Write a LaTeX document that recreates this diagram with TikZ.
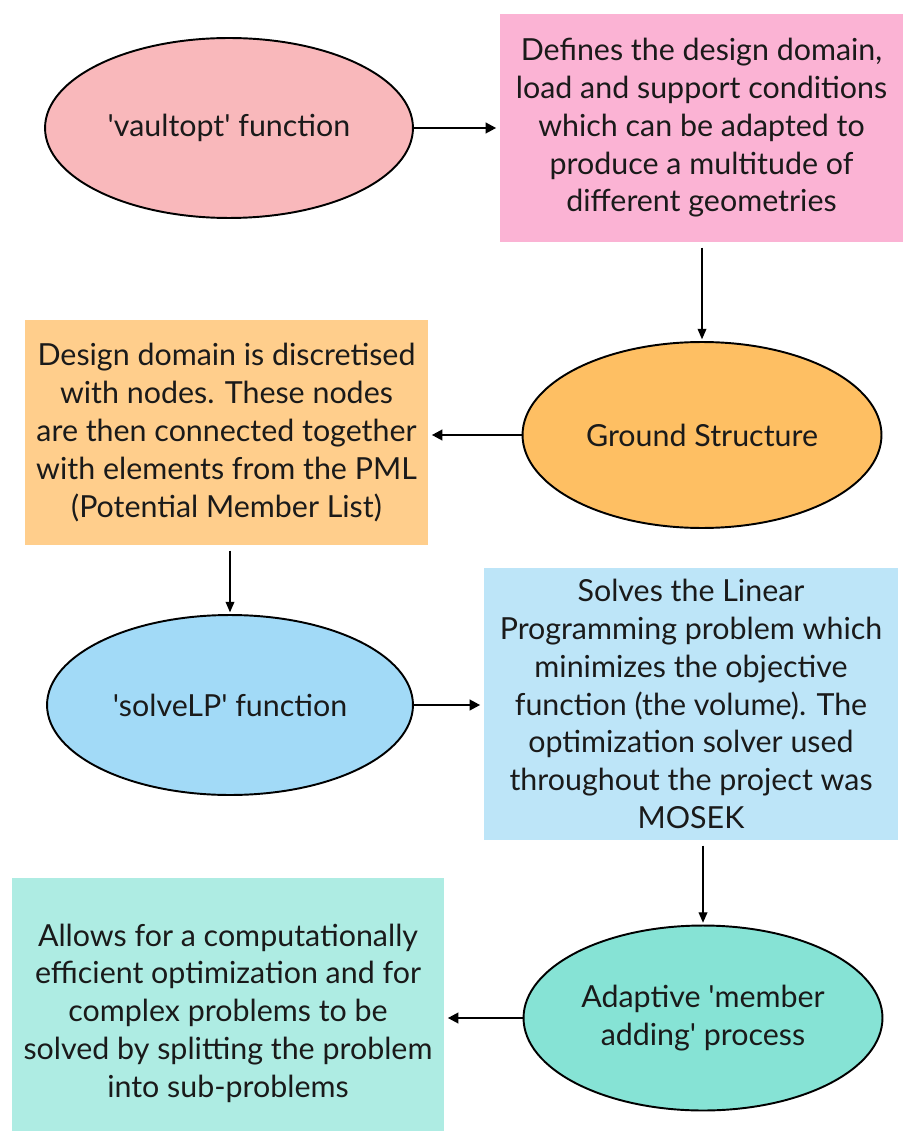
\documentclass[tikz,border=0pt]{standalone}
\usepackage{fontspec}
\setmainfont{Lato}
\usetikzlibrary{shapes.geometric,arrows.meta}
\definecolor{pinkoval}{HTML}{F9B8BB}
\definecolor{pinkbox}{HTML}{FBB3D4}
\definecolor{orangeoval}{HTML}{FEBF63}
\definecolor{orangebox}{HTML}{FFCE8C}
\definecolor{blueoval}{HTML}{A2DAF7}
\definecolor{bluebox}{HTML}{BDE5F8}
\definecolor{tealoval}{HTML}{86E3D5}
\definecolor{tealbox}{HTML}{AEECE3}
\definecolor{ink}{HTML}{1A1A1A}
\newcommand{\q}{\textquotesingle}
\begin{document}
\begin{tikzpicture}[x=0.02cm, y=-0.02cm,
  every node/.style={font=\fontsize{17.3}{21.5}\selectfont, text=ink, align=center},
  oval/.style={ellipse, draw=black, line width=1.1pt, inner sep=0pt},
  infobox/.style={rectangle, inner sep=0pt},
  flow/.style={-{Triangle[length=6pt,width=6pt]}, line width=1.3pt, shorten >=2pt},
  down/.style={-{Triangle[length=6pt,width=5pt]}, line width=0.8pt, shorten >=1pt, shorten <=3pt}]
\useasboundingbox (0,0) rectangle (903,1131);
% row 1
\node[oval, fill=pinkoval, minimum width=7.36cm, minimum height=3.6cm] (vault) at (229,128) {\q vaultopt\q{} function};
\node[infobox, fill=pinkbox, minimum width=8.06cm, minimum height=4.56cm] (domain) at (701.5,128)
  {Defines the design domain,\\load and support conditions\\which can be adapted to\\produce a multitude of\\different geometries};
% row 2
\node[oval, fill=orangeoval, minimum width=7.18cm, minimum height=3.72cm] (ground) at (702,435) {Ground Structure};
\node[infobox, fill=orangebox, minimum width=8.06cm, minimum height=4.5cm] (discret) at (226.5,432.5)
  {Design domain is discretised\\with nodes. These nodes\\are then connected together\\with elements from the PML\\(Potential Member List)};
% row 3
\node[oval, fill=blueoval, minimum width=7.32cm, minimum height=3.6cm] (solve) at (230,705) {\q solveLP\q{} function};
\node[infobox, fill=bluebox, minimum width=8.28cm, minimum height=5.44cm] (linprog) at (691,704)
  {Solves the Linear\\Programming problem which\\minimizes the objective\\function (the volume). The\\optimization solver used\\throughout the project was\\MOSEK};
% row 4
\node[oval, fill=tealoval, minimum width=7.18cm, minimum height=3.7cm] (adding) at (703,1018) {Adaptive \q member\\adding\q{} process};
\node[infobox, fill=tealbox, minimum width=8.64cm, minimum height=5.4cm] (efficient) at (228,1013)
  {Allows for a computationally\\efficient optimization and for\\complex problems to be\\solved by splitting the problem\\into sub-problems};
% connectors
\draw[flow] (vault.east) -- (vault.east -| domain.west);
\draw[down] (ground.north |- domain.south) -- (ground.north);
\draw[flow] (ground.west) -- (ground.west -| discret.east);
\draw[down] (solve.north |- discret.south) -- (solve.north);
\draw[flow] (solve.east) -- (solve.east -| linprog.west);
\draw[down] (adding.north |- linprog.south) -- (adding.north);
\draw[flow] (adding.west) -- (adding.west -| efficient.east);
\end{tikzpicture}
\end{document}
